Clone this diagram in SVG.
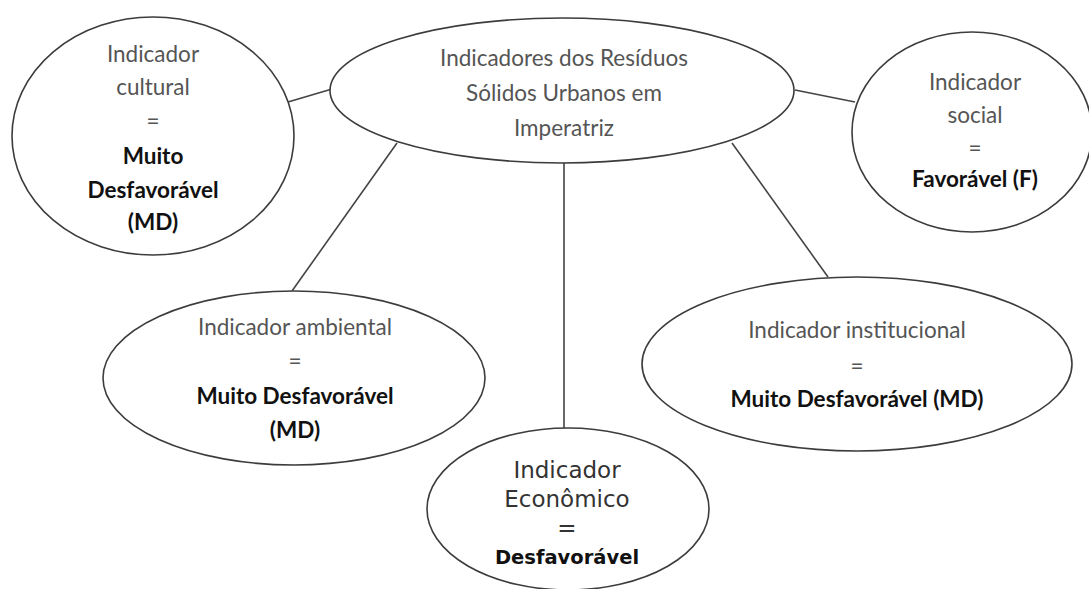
<svg xmlns="http://www.w3.org/2000/svg" width="1089" height="589" viewBox="0 0 1089 589">
<style>
.node{fill:#fff;stroke:#3c3c3c;stroke-width:1.6}
.conn{stroke:#444;stroke-width:1.6;fill:none}
.t{font-family:Lato,"Liberation Sans",sans-serif;font-size:22.5px;fill:#555;text-anchor:middle}
.b{font-family:Lato,"Liberation Sans",sans-serif;font-size:22.5px;font-weight:bold;fill:#111;text-anchor:middle}
.e{font-family:"DejaVu Sans",Verdana,sans-serif;font-size:23px;fill:#333;text-anchor:middle}
.eb{font-family:"DejaVu Sans",Verdana,sans-serif;font-size:19.5px;font-weight:bold;fill:#111;text-anchor:middle}
</style>
<rect width="1089" height="589" fill="#fff"/>
<g id="connectors">
<line class="conn" x1="288" y1="102" x2="332" y2="89"/>
<line class="conn" x1="795" y1="90" x2="855" y2="102"/>
<line class="conn" x1="397" y1="143" x2="292" y2="291"/>
<line class="conn" x1="564" y1="163" x2="564" y2="428"/>
<line class="conn" x1="732" y1="143" x2="828" y2="277"/>
</g>
<g id="cultural">
<ellipse class="node" cx="153" cy="136" rx="141" ry="119"/>
<text class="t" x="153" y="62">Indicador</text>
<text class="t" x="153" y="95">cultural</text>
<text class="t" x="153" y="129">=</text>
<text class="b" x="153" y="164">Muito</text>
<text class="b" x="153" y="198">Desfavorável</text>
<text class="b" x="153" y="230">(MD)</text>
</g>
<g id="central">
<ellipse class="node" cx="562" cy="90.5" rx="232" ry="72.5"/>
<text class="t" x="564" y="66">Indicadores dos Resíduos</text>
<text class="t" x="564" y="101">Sólidos Urbanos em</text>
<text class="t" x="564" y="136">Imperatriz</text>
</g>
<g id="social">
<ellipse class="node" cx="972" cy="132" rx="120" ry="100"/>
<text class="t" x="975" y="90">Indicador</text>
<text class="t" x="975" y="123">social</text>
<text class="t" x="975" y="156">=</text>
<text class="b" x="975" y="187">Favorável (F)</text>
</g>
<g id="ambiental">
<ellipse class="node" cx="294" cy="378" rx="191" ry="87"/>
<text class="t" x="295" y="335">Indicador ambiental</text>
<text class="t" x="295" y="369">=</text>
<text class="b" x="295" y="404">Muito Desfavorável</text>
<text class="b" x="295" y="438">(MD)</text>
</g>
<g id="institucional">
<ellipse class="node" cx="857" cy="364" rx="215" ry="87"/>
<text class="t" x="857" y="338">Indicador institucional</text>
<text class="t" x="857" y="374">=</text>
<text class="b" x="857" y="407">Muito Desfavorável (MD)</text>
</g>
<g id="economico">
<ellipse class="node" cx="568" cy="509" rx="141" ry="81"/>
<text class="e" x="567" y="478">Indicador</text>
<text class="e" x="567" y="507">Econômico</text>
<text class="e" x="567" y="536">=</text>
<text class="eb" x="567" y="564">Desfavorável</text>
</g>
</svg>
